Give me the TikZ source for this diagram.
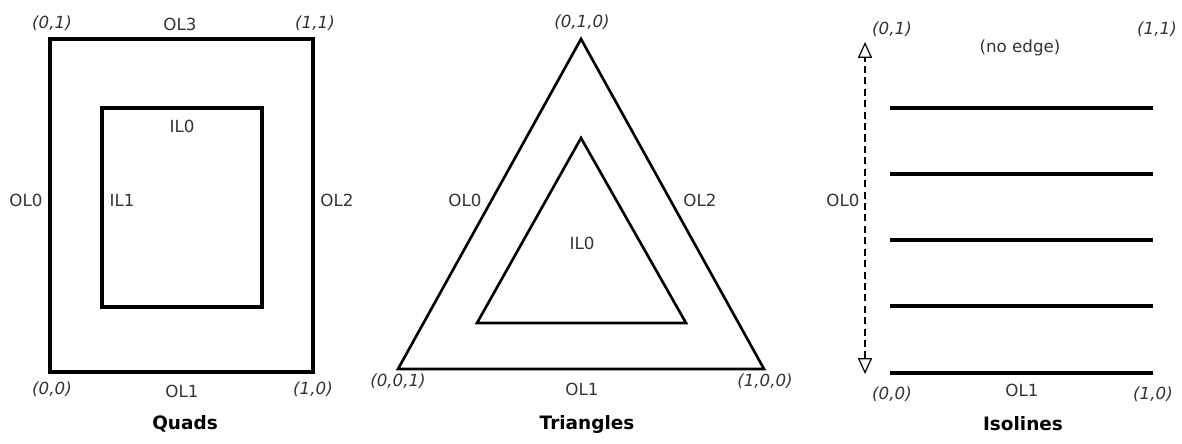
\documentclass[tikz,border=0pt]{standalone}
\usepackage{fontspec}
\setmainfont{DejaVu Sans}
\usetikzlibrary{arrows.meta,positioning}
\tikzset{font=\fontsize{9.5}{11}\selectfont, text=black!80}
\tikzset{quadline/.style={line width=2.2pt, line join=miter}}
\tikzset{triline/.style={line width=1.5pt, line join=miter}}
\tikzset{coordlbl/.style={font=\fontsize{9.5}{11}\selectfont\itshape}}
\tikzset{caption/.style={font=\fontsize{10.5}{12}\selectfont\bfseries, text=black}}
\tikzset{isoarrow/.style={dash pattern=on 4pt off 2.5pt, line width=0.7pt,
    {Triangle[open,length=9pt,width=8pt]}-{Triangle[open,length=9pt,width=8pt]}}}

\begin{document}
\begin{tikzpicture}[x=0.02cm,y=-0.02cm]
  \useasboundingbox (0,0) rectangle (1182,443);
  % quads
  \coordinate (q00) at (50,372);
  \coordinate (q10) at (313,372);
  \coordinate (q11) at (313,39);
  \coordinate (q01) at (50,39);
  \coordinate (qi00) at (102,307);
  \coordinate (qi11) at (262,108);
  \draw[quadline] (q00) -- (q10) -- (q11) -- (q01) -- cycle;
  \draw[quadline] (qi00) rectangle (qi11);
  \node[coordlbl] (q01l) at (52,23) {(0,1)};
  \node[coordlbl] (q11l) at (315,23) {(1,1)};
  \node[coordlbl] (q00l) at (52,389) {(0,0)};
  \node[coordlbl] (q10l) at (313,389) {(1,0)};
  \node (qol3) at (180,24) {OL3};
  \node (qol0) at (26,200) {OL0};
  \node (qol2) at (337,200) {OL2};
  \node (qol1) at (182,391) {OL1};
  \node (qil0) at (182,126) {IL0};
  \node (qil1) at (122,200) {IL1};
  \node[caption] (quads) at (185,424) {Quads};
  % triangles
  \coordinate (ta) at (581,39);
  \coordinate (tl) at (398,369);
  \coordinate (tr) at (764,369);
  \coordinate (tia) at (581,138);
  \coordinate (til) at (477,323);
  \coordinate (tir) at (686,323);
  \draw[triline] (tl) -- (tr) -- (ta) -- cycle;
  \draw[triline] (til) -- (tir) -- (tia) -- cycle;
  \node[coordlbl] (tal) at (582,22) {(0,1,0)};
  \node[coordlbl] (tll) at (398,381) {(0,0,1)};
  \node[coordlbl] (trl) at (765,381) {(1,0,0)};
  \node (tol0) at (465,200) {OL0};
  \node (tol2) at (700,200) {OL2};
  \node (tol1) at (582,389) {OL1};
  \node (til0) at (582,243) {IL0};
  \node[caption] (triangles) at (587,424) {Triangles};
  % isolines
  \foreach \y [count=\i] in {108,174,240,306,373} {
    \coordinate (iso\i a) at (890,\y);
    \coordinate (iso\i b) at (1153,\y);
    \draw[quadline] (iso\i a) -- (iso\i b);
  }
  \coordinate (ibot) at (865,374);
  \coordinate (itop) at (865,42);
  \draw[isoarrow] (ibot) -- (itop);
  \node[coordlbl] (i01l) at (892,29) {(0,1)};
  \node[coordlbl] (i11l) at (1157,29) {(1,1)};
  \node[coordlbl] (i00l) at (892,394) {(0,0)};
  \node[coordlbl] (i10l) at (1153,394) {(1,0)};
  \node (inoedge) at (1020,48) {(no edge)};
  \node (iol0) at (843,200) {OL0};
  \node (iol1) at (1022,390) {OL1};
  \node[caption] (isolines) at (1023,424) {Isolines};
\end{tikzpicture}
\end{document}
